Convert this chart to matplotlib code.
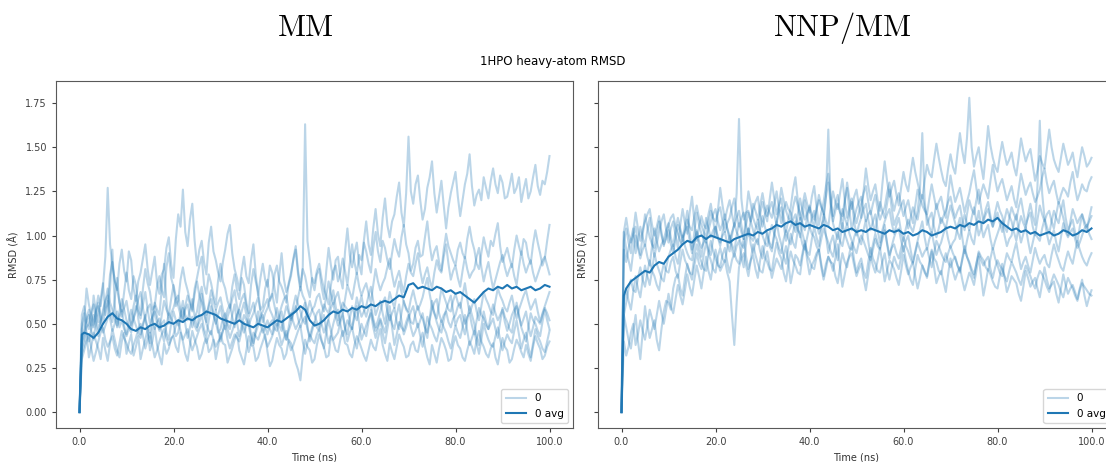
# RMSD traces for 1HPO, MM vs NNP/MM
import numpy as np
from matplotlib import pyplot as plt

plt.rcParams['mathtext.fontset'] = 'cm'

# MM replicas, heavy-atom RMSD (Å), one value every 0.5 ns from 0 to 100 ns
mm_rep1 = [
    0.00, 0.47, 0.52, 0.70, 0.61, 0.55, 0.48, 0.58, 0.66, 0.60, 0.71, 0.88, 1.27, 0.95, 0.83, 0.75, 0.69, 0.84, 0.92, 0.80,
    0.74, 0.91, 0.86, 0.70, 0.63, 0.74, 0.79, 0.87, 0.95, 0.81, 0.72, 0.80, 0.88, 0.73, 0.67, 0.78, 0.81, 0.93, 0.99, 0.84,
    0.76, 0.98, 1.12, 1.05, 1.26, 1.02, 0.94, 1.09, 1.18, 0.97, 0.83, 0.92, 0.97, 0.85, 0.78, 0.96, 1.05, 0.91, 0.86, 0.79,
    0.74, 0.85, 0.92, 1.01, 1.06, 0.90, 0.81, 0.76, 0.69, 0.80, 0.88, 0.77, 0.73, 0.86, 0.95, 0.78, 0.66, 0.76, 0.84, 0.75,
    0.71, 0.83, 0.79, 0.70, 0.62, 0.77, 0.90, 0.75, 0.68, 0.72, 0.77, 0.87, 0.94, 0.80, 0.71, 0.82, 1.63, 0.97, 0.86, 0.74,
    0.69, 0.78, 0.81, 0.71, 0.64, 0.80, 0.93, 0.83, 0.75, 0.86, 0.88, 0.76, 0.70, 0.91, 1.04, 0.89, 0.82, 0.90, 0.96, 0.84,
    0.78, 0.97, 1.08, 0.95, 0.89, 1.04, 1.15, 1.01, 0.94, 1.10, 1.21, 1.06, 0.99, 1.08, 1.12, 1.22, 1.30, 1.13, 1.05, 1.24,
    1.56, 1.25, 1.18, 1.29, 1.34, 1.20, 1.09, 1.15, 1.27, 1.33, 1.42, 1.24, 1.13, 1.22, 1.31, 1.17, 1.04, 1.16, 1.24, 1.30,
    1.36, 1.22, 1.11, 1.20, 1.29, 1.35, 1.46, 1.28, 1.17, 1.23, 1.26, 1.20, 1.33, 1.27, 1.21, 1.31, 1.38, 1.29, 1.24, 1.34,
    1.30, 1.21, 1.22, 1.28, 1.35, 1.24, 1.27, 1.33, 1.19, 1.26, 1.32, 1.21, 1.25, 1.33, 1.40, 1.28, 1.23, 1.31, 1.29, 1.36,
    1.45]
mm_rep2 = [
    0.00, 0.39, 0.44, 0.53, 0.58, 0.49, 0.66, 0.57, 0.51, 0.64, 0.73, 0.55, 0.62, 0.78, 0.85, 0.74, 0.70, 0.62, 0.57, 0.68,
    0.79, 0.69, 0.64, 0.77, 0.72, 0.61, 0.55, 0.70, 0.81, 0.73, 0.68, 0.58, 0.60, 0.71, 0.77, 0.69, 0.65, 0.82, 0.90, 0.76,
    0.71, 0.60, 0.63, 0.75, 0.82, 0.74, 0.69, 0.63, 0.58, 0.70, 0.76, 0.83, 0.88, 0.72, 0.67, 0.78, 0.73, 0.66, 0.61, 0.75,
    0.84, 0.74, 0.70, 0.63, 0.59, 0.71, 0.78, 0.69, 0.64, 0.76, 0.72, 0.62, 0.56, 0.72, 0.81, 0.74, 0.68, 0.58, 0.60, 0.70,
    0.75, 0.63, 0.66, 0.78, 0.83, 0.74, 0.71, 0.67, 0.62, 0.73, 0.79, 0.86, 0.92, 0.78, 0.69, 0.81, 0.77, 0.70, 0.65, 0.76,
    0.73, 0.80, 0.84, 0.76, 0.70, 0.66, 0.61, 0.72, 0.80, 0.83, 0.74, 0.79, 0.87, 0.80, 0.72, 0.84, 0.95, 0.85, 0.78, 0.89,
    0.86, 0.96, 0.91, 0.84, 0.79, 0.93, 1.02, 0.91, 0.85, 0.97, 0.93, 0.86, 0.81, 0.90, 0.98, 0.92, 0.88, 0.99, 1.06, 0.95,
    0.90, 0.80, 0.84, 0.93, 0.97, 0.88, 0.89, 0.99, 1.08, 0.95, 0.86, 0.91, 0.94, 0.85, 0.80, 0.92, 1.01, 0.94, 0.90, 0.86,
    0.83, 0.92, 0.96, 0.90, 0.87, 0.98, 1.05, 0.97, 0.92, 0.84, 0.81, 0.90, 0.99, 0.93, 0.88, 0.97, 0.94, 1.01, 1.07, 0.94,
    0.85, 0.89, 0.93, 0.87, 0.82, 0.92, 1.00, 0.94, 0.89, 0.98, 0.96, 0.88, 0.84, 0.95, 1.03, 0.96, 0.90, 0.83, 0.87, 0.97,
    1.06]
mm_rep3 = [
    0.00, 0.33, 0.38, 0.44, 0.31, 0.37, 0.45, 0.40, 0.36, 0.30, 0.42, 0.35, 0.29, 0.39, 0.47, 0.41, 0.35, 0.31, 0.40, 0.45,
    0.33, 0.39, 0.44, 0.32, 0.37, 0.43, 0.30, 0.36, 0.41, 0.47, 0.35, 0.40, 0.48, 0.38, 0.32, 0.27, 0.39, 0.33, 0.36, 0.42,
    0.43, 0.37, 0.34, 0.45, 0.40, 0.33, 0.29, 0.38, 0.46, 0.41, 0.37, 0.30, 0.33, 0.39, 0.42, 0.34, 0.36, 0.41, 0.30, 0.37,
    0.45, 0.39, 0.38, 0.28, 0.32, 0.36, 0.41, 0.45, 0.35, 0.31, 0.27, 0.35, 0.43, 0.38, 0.37, 0.29, 0.31, 0.36, 0.40, 0.44,
    0.34, 0.26, 0.29, 0.36, 0.42, 0.38, 0.36, 0.30, 0.33, 0.41, 0.39, 0.34, 0.28, 0.24, 0.18, 0.32, 0.41, 0.37, 0.35, 0.28,
    0.30, 0.38, 0.44, 0.40, 0.37, 0.31, 0.32, 0.43, 0.40, 0.35, 0.34, 0.41, 0.46, 0.39, 0.38, 0.33, 0.31, 0.38, 0.43, 0.40,
    0.36, 0.32, 0.29, 0.35, 0.41, 0.37, 0.35, 0.42, 0.47, 0.38, 0.33, 0.29, 0.39, 0.34, 0.30, 0.37, 0.44, 0.40, 0.37, 0.31,
    0.32, 0.38, 0.40, 0.35, 0.34, 0.41, 0.45, 0.37, 0.31, 0.27, 0.38, 0.33, 0.28, 0.36, 0.42, 0.39, 0.35, 0.29, 0.30, 0.38,
    0.43, 0.38, 0.36, 0.31, 0.29, 0.35, 0.40, 0.37, 0.33, 0.41, 0.46, 0.40, 0.37, 0.33, 0.31, 0.36, 0.39, 0.31, 0.27, 0.35,
    0.42, 0.37, 0.35, 0.28, 0.30, 0.36, 0.41, 0.38, 0.34, 0.31, 0.38, 0.33, 0.29, 0.37, 0.43, 0.39, 0.36, 0.30, 0.32, 0.37,
    0.40]
mm_rep4 = [
    0.00, 0.41, 0.47, 0.52, 0.55, 0.46, 0.41, 0.51, 0.60, 0.55, 0.50, 0.58, 0.63, 0.53, 0.46, 0.50, 0.57, 0.48, 0.52, 0.47,
    0.44, 0.52, 0.58, 0.53, 0.49, 0.45, 0.42, 0.49, 0.54, 0.59, 0.61, 0.52, 0.47, 0.51, 0.53, 0.45, 0.40, 0.49, 0.56, 0.53,
    0.50, 0.43, 0.45, 0.53, 0.59, 0.55, 0.52, 0.58, 0.64, 0.54, 0.48, 0.51, 0.55, 0.47, 0.43, 0.52, 0.60, 0.55, 0.51, 0.45,
    0.47, 0.53, 0.56, 0.47, 0.42, 0.46, 0.50, 0.55, 0.58, 0.50, 0.45, 0.49, 0.53, 0.44, 0.39, 0.45, 0.49, 0.53, 0.55, 0.48,
    0.44, 0.50, 0.52, 0.47, 0.46, 0.53, 0.57, 0.48, 0.41, 0.46, 0.50, 0.56, 0.60, 0.53, 0.48, 0.52, 0.54, 0.47, 0.43, 0.48,
    0.51, 0.56, 0.58, 0.50, 0.45, 0.49, 0.53, 0.59, 0.62, 0.54, 0.49, 0.53, 0.56, 0.48, 0.44, 0.53, 0.60, 0.55, 0.52, 0.60,
    0.66, 0.58, 0.54, 0.59, 0.61, 0.53, 0.48, 0.52, 0.57, 0.62, 0.65, 0.57, 0.52, 0.56, 0.59, 0.51, 0.47, 0.56, 0.63, 0.58,
    0.56, 0.51, 0.50, 0.56, 0.60, 0.55, 0.53, 0.48, 0.45, 0.52, 0.58, 0.62, 0.64, 0.56, 0.51, 0.55, 0.57, 0.51, 0.48, 0.53,
    0.55, 0.60, 0.62, 0.55, 0.50, 0.54, 0.56, 0.49, 0.44, 0.52, 0.59, 0.55, 0.53, 0.49, 0.47, 0.55, 0.61, 0.56, 0.52, 0.55,
    0.58, 0.51, 0.46, 0.50, 0.55, 0.58, 0.60, 0.54, 0.49, 0.53, 0.57, 0.49, 0.43, 0.48, 0.54, 0.52, 0.50, 0.55, 0.59, 0.56,
    0.52]
mm_rep5 = [
    0.00, 0.50, 0.56, 0.45, 0.40, 0.47, 0.50, 0.57, 0.62, 0.51, 0.45, 0.49, 0.53, 0.70, 0.92, 0.61, 0.48, 0.54, 0.58, 0.49,
    0.43, 0.47, 0.51, 0.60, 0.66, 0.53, 0.44, 0.50, 0.55, 0.45, 0.39, 0.48, 0.60, 0.54, 0.47, 0.50, 0.52, 0.45, 0.41, 0.50,
    0.57, 0.52, 0.49, 0.56, 0.63, 0.50, 0.42, 0.48, 0.54, 0.49, 0.46, 0.57, 0.67, 0.58, 0.50, 0.46, 0.44, 0.51, 0.58, 0.47,
    0.40, 0.46, 0.53, 0.50, 0.47, 0.55, 0.61, 0.51, 0.43, 0.49, 0.55, 0.52, 0.49, 0.42, 0.38, 0.47, 0.57, 0.50, 0.45, 0.48,
    0.52, 0.47, 0.44, 0.52, 0.59, 0.54, 0.50, 0.45, 0.41, 0.48, 0.56, 0.51, 0.47, 0.50, 0.53, 0.58, 0.62, 0.49, 0.40, 0.46,
    0.51, 0.48, 0.46, 0.51, 0.55, 0.46, 0.39, 0.44, 0.50, 0.55, 0.58, 0.50, 0.43, 0.47, 0.52, 0.49, 0.47, 0.54, 0.60, 0.50,
    0.41, 0.45, 0.49, 0.53, 0.56, 0.48, 0.42, 0.47, 0.53, 0.49, 0.45, 0.53, 0.60, 0.48, 0.38, 0.44, 0.51, 0.48, 0.46, 0.51,
    0.55, 0.48, 0.43, 0.46, 0.50, 0.43, 0.37, 0.45, 0.54, 0.50, 0.47, 0.43, 0.40, 0.46, 0.52, 0.48, 0.45, 0.40, 0.36, 0.43,
    0.49, 0.45, 0.42, 0.48, 0.55, 0.46, 0.38, 0.42, 0.46, 0.39, 0.33, 0.41, 0.50, 0.45, 0.41, 0.38, 0.37, 0.43, 0.48, 0.41,
    0.35, 0.40, 0.44, 0.41, 0.39, 0.46, 0.52, 0.44, 0.36, 0.41, 0.45, 0.37, 0.31, 0.39, 0.47, 0.43, 0.40, 0.36, 0.34, 0.40,
    0.46]
mm_rep6 = [
    0.00, 0.36, 0.42, 0.48, 0.50, 0.57, 0.61, 0.53, 0.47, 0.52, 0.55, 0.63, 0.70, 0.62, 0.58, 0.53, 0.49, 0.57, 0.64, 0.58,
    0.52, 0.48, 0.45, 0.53, 0.60, 0.57, 0.53, 0.61, 0.68, 0.58, 0.50, 0.54, 0.57, 0.50, 0.46, 0.55, 0.63, 0.58, 0.55, 0.64,
    0.72, 0.65, 0.60, 0.55, 0.52, 0.60, 0.66, 0.61, 0.57, 0.67, 0.74, 0.66, 0.62, 0.55, 0.51, 0.61, 0.69, 0.63, 0.58, 0.62,
    0.65, 0.58, 0.53, 0.58, 0.61, 0.54, 0.48, 0.54, 0.59, 0.64, 0.67, 0.60, 0.54, 0.58, 0.62, 0.55, 0.50, 0.54, 0.57, 0.61,
    0.64, 0.58, 0.55, 0.51, 0.49, 0.55, 0.60, 0.64, 0.66, 0.58, 0.52, 0.56, 0.58, 0.65, 0.71, 0.66, 0.63, 0.57, 0.54, 0.58,
    0.60, 0.65, 0.67, 0.61, 0.57, 0.66, 0.74, 0.67, 0.61, 0.65, 0.68, 0.61, 0.56, 0.64, 0.72, 0.68, 0.64, 0.72, 0.79, 0.71,
    0.66, 0.70, 0.73, 0.67, 0.62, 0.72, 0.81, 0.74, 0.69, 0.73, 0.76, 0.82, 0.87, 0.78, 0.71, 0.76, 0.80, 0.73, 0.68, 0.77,
    0.84, 0.79, 0.77, 0.84, 0.90, 0.80, 0.73, 0.78, 0.82, 0.75, 0.70, 0.79, 0.86, 0.81, 0.79, 0.88, 0.95, 0.84, 0.75, 0.80,
    0.83, 0.76, 0.71, 0.80, 0.88, 0.81, 0.76, 0.79, 0.81, 0.88, 0.93, 0.82, 0.74, 0.80, 0.85, 0.77, 0.70, 0.75, 0.80, 0.85,
    0.89, 0.82, 0.77, 0.81, 0.84, 0.77, 0.72, 0.82, 0.91, 0.84, 0.79, 0.83, 0.86, 0.79, 0.74, 0.78, 0.82, 0.86, 0.88, 0.83,
    0.78]
mm_rep7 = [
    0.00, 0.30, 0.35, 0.40, 0.44, 0.36, 0.29, 0.34, 0.40, 0.45, 0.48, 0.41, 0.37, 0.40, 0.43, 0.36, 0.32, 0.39, 0.46, 0.42,
    0.39, 0.35, 0.33, 0.38, 0.42, 0.47, 0.50, 0.43, 0.36, 0.41, 0.45, 0.38, 0.31, 0.35, 0.40, 0.44, 0.47, 0.42, 0.38, 0.41,
    0.44, 0.49, 0.52, 0.46, 0.41, 0.44, 0.47, 0.40, 0.35, 0.39, 0.43, 0.47, 0.50, 0.44, 0.39, 0.43, 0.46, 0.41, 0.37, 0.40,
    0.42, 0.46, 0.49, 0.41, 0.36, 0.40, 0.44, 0.42, 0.40, 0.46, 0.51, 0.42, 0.34, 0.39, 0.45, 0.43, 0.41, 0.45, 0.48, 0.42,
    0.37, 0.40, 0.43, 0.47, 0.50, 0.44, 0.38, 0.42, 0.46, 0.40, 0.35, 0.38, 0.42, 0.46, 0.49, 0.40, 0.33, 0.39, 0.44, 0.41,
    0.39, 0.44, 0.47, 0.41, 0.36, 0.45, 0.52, 0.46, 0.41, 0.43, 0.45, 0.51, 0.55, 0.47, 0.40, 0.45, 0.48, 0.41, 0.36, 0.44,
    0.50, 0.46, 0.43, 0.51, 0.58, 0.51, 0.46, 0.49, 0.52, 0.45, 0.39, 0.47, 0.55, 0.50, 0.47, 0.55, 0.61, 0.52, 0.44, 0.48,
    0.53, 0.57, 0.60, 0.53, 0.48, 0.52, 0.56, 0.48, 0.42, 0.53, 0.63, 0.56, 0.51, 0.47, 0.45, 0.52, 0.58, 0.62, 0.66, 0.57,
    0.49, 0.53, 0.55, 0.49, 0.44, 0.52, 0.60, 0.55, 0.50, 0.43, 0.38, 0.48, 0.57, 0.51, 0.47, 0.50, 0.53, 0.47, 0.42, 0.51,
    0.59, 0.54, 0.51, 0.47, 0.45, 0.54, 0.62, 0.55, 0.48, 0.44, 0.40, 0.48, 0.56, 0.52, 0.50, 0.46, 0.43, 0.51, 0.58, 0.52,
    0.47]
mm_rep8 = [
    0.00, 0.55, 0.60, 0.52, 0.47, 0.50, 0.55, 0.49, 0.43, 0.51, 0.58, 0.63, 0.66, 0.57, 0.51, 0.64, 0.76, 0.62, 0.54, 0.59,
    0.63, 0.55, 0.49, 0.53, 0.57, 0.64, 0.68, 0.59, 0.52, 0.48, 0.45, 0.55, 0.62, 0.58, 0.55, 0.70, 0.84, 0.63, 0.50, 0.56,
    0.59, 0.64, 0.66, 0.58, 0.53, 0.58, 0.61, 0.54, 0.48, 0.53, 0.57, 0.65, 0.71, 0.61, 0.55, 0.60, 0.64, 0.56, 0.50, 0.55,
    0.60, 0.52, 0.47, 0.54, 0.58, 0.64, 0.69, 0.60, 0.53, 0.57, 0.62, 0.55, 0.49, 0.53, 0.56, 0.61, 0.65, 0.57, 0.51, 0.56,
    0.59, 0.64, 0.67, 0.60, 0.54, 0.49, 0.46, 0.54, 0.60, 0.56, 0.53, 0.60, 0.66, 0.61, 0.57, 0.52, 0.50, 0.57, 0.63, 0.58,
    0.55, 0.51, 0.48, 0.55, 0.61, 0.58, 0.56, 0.63, 0.69, 0.60, 0.52, 0.57, 0.62, 0.60, 0.58, 0.52, 0.47, 0.56, 0.65, 0.59,
    0.54, 0.57, 0.60, 0.66, 0.71, 0.63, 0.55, 0.59, 0.63, 0.56, 0.50, 0.59, 0.68, 0.63, 0.59, 0.67, 0.74, 0.68, 0.62, 0.59,
    0.57, 0.64, 0.69, 0.63, 0.58, 0.61, 0.65, 0.71, 0.76, 0.67, 0.60, 0.56, 0.53, 0.61, 0.70, 0.66, 0.62, 0.58, 0.57, 0.63,
    0.67, 0.62, 0.59, 0.66, 0.73, 0.64, 0.56, 0.60, 0.64, 0.57, 0.52, 0.60, 0.68, 0.64, 0.61, 0.57, 0.55, 0.63, 0.70, 0.66,
    0.63, 0.59, 0.57, 0.62, 0.66, 0.59, 0.53, 0.58, 0.62, 0.66, 0.69, 0.63, 0.58, 0.61, 0.64, 0.57, 0.51, 0.56, 0.60, 0.64,
    0.68]

# replica average: values at 0 and 0.5 ns, then one per ns
avg_time_ns = [0.0, 0.5] + list(range(1, 101))
mm_avg = [0.00, 0.44,
    0.45, 0.44, 0.42, 0.45, 0.50, 0.54, 0.56, 0.53, 0.52, 0.50,
    0.47, 0.46, 0.48, 0.47, 0.49, 0.50, 0.48, 0.49, 0.51, 0.50,
    0.52, 0.51, 0.53, 0.52, 0.54, 0.55, 0.57, 0.56, 0.55, 0.53,
    0.52, 0.51, 0.50, 0.52, 0.50, 0.49, 0.48, 0.50, 0.49, 0.48,
    0.50, 0.52, 0.51, 0.53, 0.55, 0.57, 0.60, 0.58, 0.52, 0.49,
    0.50, 0.52, 0.55, 0.57, 0.56, 0.58, 0.57, 0.59, 0.58, 0.60,
    0.59, 0.61, 0.60, 0.62, 0.63, 0.62, 0.64, 0.66, 0.65, 0.72,
    0.73, 0.70, 0.71, 0.70, 0.69, 0.71, 0.70, 0.68, 0.69, 0.67,
    0.68, 0.66, 0.64, 0.62, 0.65, 0.68, 0.70, 0.69, 0.71, 0.70,
    0.72, 0.70, 0.71, 0.69, 0.70, 0.71, 0.69, 0.70, 0.72, 0.71]

# NNP/MM replicas, heavy-atom RMSD (Å), one value every 0.5 ns
nnp_rep1 = [
    0.00, 0.92, 0.85, 0.93, 0.98, 1.04, 0.90, 0.97, 1.05, 0.99, 0.94, 1.03, 1.10, 0.97, 0.88, 0.95, 1.02, 1.08, 1.12, 1.03,
    0.96, 1.04, 1.08, 1.00, 0.93, 1.06, 1.15, 1.07, 1.01, 1.13, 1.22, 1.08, 0.97, 1.05, 1.11, 1.06, 1.04, 1.12, 1.18, 1.09,
    0.99, 1.14, 1.27, 1.17, 1.09, 1.15, 1.20, 1.12, 1.05, 1.10, 1.14, 1.06, 0.98, 1.12, 1.25, 1.18, 1.10, 1.06, 1.03, 1.12,
    1.19, 1.13, 1.08, 1.20, 1.30, 1.21, 1.12, 1.17, 1.21, 1.11, 1.02, 1.09, 1.16, 1.26, 1.33, 1.20, 1.09, 1.17, 1.24, 1.18,
    1.13, 1.22, 1.28, 1.16, 1.06, 1.13, 1.19, 1.28, 1.35, 1.22, 1.11, 1.18, 1.23, 1.13, 1.04, 1.18, 1.30, 1.21, 1.15, 1.22,
    1.26, 1.17, 1.10, 1.25, 1.38, 1.28, 1.20, 1.25, 1.29, 1.20, 1.14, 1.29, 1.42, 1.31, 1.22, 1.27, 1.31, 1.23, 1.17, 1.27,
    1.36, 1.29, 1.25, 1.35, 1.44, 1.36, 1.30, 1.24, 1.21, 1.31, 1.40, 1.35, 1.33, 1.43, 1.52, 1.44, 1.37, 1.31, 1.28, 1.38,
    1.46, 1.39, 1.35, 1.47, 1.58, 1.48, 1.41, 1.55, 1.78, 1.50, 1.39, 1.45, 1.50, 1.40, 1.32, 1.46, 1.62, 1.51, 1.44, 1.39,
    1.36, 1.45, 1.53, 1.46, 1.40, 1.43, 1.47, 1.39, 1.34, 1.44, 1.55, 1.48, 1.42, 1.46, 1.49, 1.40, 1.31, 1.37, 1.45, 1.41,
    1.38, 1.49, 1.60, 1.50, 1.43, 1.39, 1.36, 1.44, 1.52, 1.46, 1.40, 1.43, 1.47, 1.39, 1.33, 1.42, 1.50, 1.45, 1.39, 1.41,
    1.44]
nnp_rep2 = [
    0.00, 0.40, 0.32, 0.37, 0.45, 0.50, 0.38, 0.44, 0.52, 0.46, 0.41, 0.49, 0.58, 0.53, 0.47, 0.55, 0.63, 0.56, 0.50, 0.58,
    0.67, 0.60, 0.56, 0.64, 0.72, 0.66, 0.61, 0.69, 0.78, 0.71, 0.66, 0.75, 0.83, 0.77, 0.70, 0.79, 0.88, 0.80, 0.75, 0.84,
    0.92, 0.85, 0.80, 0.83, 0.86, 0.79, 0.74, 0.55, 0.38, 0.62, 0.82, 0.87, 0.90, 0.83, 0.77, 0.86, 0.95, 0.89, 0.84, 0.80,
    0.79, 0.86, 0.91, 0.83, 0.76, 0.82, 0.87, 0.84, 0.81, 0.88, 0.94, 0.85, 0.73, 0.80, 0.89, 0.87, 0.83, 0.90, 0.97, 0.86,
    0.78, 0.83, 0.86, 0.90, 0.92, 0.82, 0.75, 0.81, 0.88, 0.85, 0.80, 0.87, 0.95, 0.82, 0.71, 0.78, 0.85, 0.88, 0.90, 0.83,
    0.77, 0.81, 0.84, 0.76, 0.69, 0.78, 0.88, 0.83, 0.79, 0.86, 0.93, 0.84, 0.74, 0.80, 0.86, 0.84, 0.81, 0.76, 0.72, 0.80,
    0.89, 0.83, 0.78, 0.82, 0.85, 0.77, 0.70, 0.76, 0.83, 0.80, 0.76, 0.84, 0.91, 0.82, 0.73, 0.77, 0.80, 0.74, 0.68, 0.78,
    0.87, 0.80, 0.75, 0.79, 0.82, 0.75, 0.69, 0.74, 0.79, 0.76, 0.72, 0.80, 0.88, 0.77, 0.66, 0.73, 0.81, 0.78, 0.74, 0.71,
    0.70, 0.77, 0.84, 0.76, 0.68, 0.72, 0.77, 0.75, 0.73, 0.67, 0.63, 0.71, 0.80, 0.76, 0.71, 0.74, 0.76, 0.70, 0.65, 0.73,
    0.82, 0.75, 0.70, 0.72, 0.74, 0.67, 0.62, 0.70, 0.78, 0.72, 0.67, 0.70, 0.72, 0.68, 0.64, 0.70, 0.75, 0.66, 0.60, 0.65,
    0.69]
nnp_rep3 = [
    0.00, 0.55, 0.48, 0.41, 0.36, 0.46, 0.55, 0.40, 0.30, 0.45, 0.60, 0.50, 0.42, 0.47, 0.52, 0.41, 0.35, 0.47, 0.57, 0.63,
    0.62, 0.58, 0.70, 0.76, 0.78, 0.70, 0.66, 0.76, 0.84, 0.79, 0.75, 0.83, 0.90, 0.84, 0.81, 0.89, 0.96, 0.90, 0.86, 0.81,
    0.79, 0.88, 0.93, 0.87, 0.85, 0.93, 1.00, 0.92, 0.88, 0.94, 0.97, 0.88, 0.82, 0.95, 1.04, 0.95, 0.90, 0.96, 0.98, 0.91,
    0.87, 0.95, 1.02, 0.94, 0.91, 1.00, 1.08, 1.00, 0.95, 0.88, 0.84, 0.93, 1.01, 0.96, 0.93, 1.03, 1.10, 1.01, 0.96, 0.91,
    0.89, 0.98, 1.05, 0.99, 0.94, 1.04, 1.12, 1.00, 0.90, 0.96, 1.00, 0.92, 0.86, 0.97, 1.07, 1.01, 0.97, 0.93, 0.92, 0.99,
    1.03, 0.98, 0.95, 1.03, 1.09, 0.97, 0.88, 0.95, 1.01, 0.96, 0.93, 1.00, 1.06, 0.95, 0.87, 0.94, 0.99, 1.03, 1.04, 0.97,
    0.91, 0.97, 1.00, 0.92, 0.85, 0.91, 0.97, 1.03, 1.08, 0.99, 0.92, 0.98, 1.02, 0.95, 0.89, 0.93, 0.96, 1.01, 1.05, 0.98,
    0.93, 0.96, 0.98, 1.05, 1.10, 0.99, 0.90, 0.97, 1.03, 0.98, 0.95, 1.05, 1.14, 1.06, 0.99, 1.03, 1.06, 0.98, 0.92, 0.97,
    1.01, 1.05, 1.08, 1.00, 0.94, 0.98, 1.00, 1.07, 1.12, 1.03, 0.96, 1.01, 1.05, 0.97, 0.90, 0.96, 1.02, 0.99, 0.97, 1.04,
    1.09, 1.01, 0.95, 0.99, 1.03, 0.96, 0.91, 0.99, 1.07, 1.02, 0.99, 1.02, 1.04, 0.98, 0.93, 0.96, 1.00, 1.04, 1.06, 1.01,
    0.98]
nnp_rep4 = [
    0.00, 1.02, 0.92, 0.86, 0.80, 0.91, 1.00, 0.93, 0.87, 0.92, 0.95, 0.88, 0.83, 0.94, 1.04, 0.97, 0.91, 0.95, 0.98, 1.03,
    1.07, 0.99, 0.94, 1.03, 1.10, 1.04, 0.99, 1.02, 1.05, 0.97, 0.90, 1.02, 1.13, 1.06, 1.01, 0.98, 0.96, 1.03, 1.08, 1.12,
    1.15, 1.08, 1.03, 1.07, 1.12, 1.04, 0.97, 1.02, 1.06, 1.24, 1.66, 1.21, 1.09, 1.13, 1.14, 1.08, 1.14, 1.19, 1.22, 1.12,
    1.05, 1.12, 1.17, 1.13, 1.10, 1.18, 1.25, 1.15, 1.07, 1.14, 1.19, 1.15, 1.13, 1.06, 1.02, 1.12, 1.21, 1.14, 1.09, 1.13,
    1.16, 1.09, 1.05, 1.15, 1.23, 1.17, 1.12, 1.22, 1.30, 1.18, 1.08, 1.14, 1.18, 1.13, 1.11, 1.20, 1.27, 1.14, 1.03, 1.10,
    1.15, 1.19, 1.22, 1.14, 1.08, 1.12, 1.14, 1.07, 1.02, 1.11, 1.19, 1.14, 1.10, 1.18, 1.26, 1.15, 1.06, 1.10, 1.13, 1.17,
    1.20, 1.11, 1.04, 1.10, 1.16, 1.12, 1.09, 1.17, 1.23, 1.16, 1.11, 1.05, 1.01, 1.10, 1.18, 1.12, 1.07, 1.11, 1.14, 1.19,
    1.22, 1.15, 1.10, 1.14, 1.17, 1.09, 1.03, 1.12, 1.20, 1.15, 1.12, 1.20, 1.26, 1.16, 1.08, 1.12, 1.15, 1.09, 1.05, 1.13,
    1.19, 1.14, 1.11, 1.05, 1.02, 1.10, 1.16, 1.12, 1.09, 1.16, 1.21, 1.13, 1.06, 1.10, 1.13, 1.05, 1.00, 1.09, 1.17, 1.12,
    1.08, 1.12, 1.14, 1.08, 1.04, 1.12, 1.19, 1.15, 1.10, 1.04, 1.00, 1.08, 1.15, 1.11, 1.07, 1.10, 1.12, 1.06, 1.03, 1.10,
    1.16]
nnp_rep5 = [
    0.00, 1.02, 1.10, 1.01, 0.96, 1.00, 1.05, 0.95, 0.89, 1.00, 1.12, 1.05, 0.99, 0.95, 0.93, 1.01, 1.08, 1.00, 0.95, 0.98,
    1.03, 0.95, 0.90, 0.98, 1.06, 1.02, 0.97, 1.06, 1.14, 1.02, 0.92, 0.96, 1.02, 0.94, 0.88, 0.99, 1.10, 1.04, 0.99, 1.03,
    1.05, 0.99, 0.94, 1.02, 1.09, 1.04, 1.00, 0.95, 0.91, 1.00, 1.07, 1.02, 0.98, 1.06, 1.13, 1.08, 1.03, 0.98, 0.95, 1.04,
    1.11, 1.05, 1.00, 0.96, 0.93, 1.01, 1.08, 1.13, 1.16, 1.06, 0.97, 1.02, 1.05, 1.09, 1.12, 1.05, 0.99, 1.10, 1.20, 1.11,
    1.04, 1.10, 1.14, 1.07, 1.01, 1.05, 1.09, 1.22, 1.60, 1.18, 1.07, 1.02, 0.98, 1.07, 1.15, 1.10, 1.06, 1.13, 1.19, 1.08,
    1.00, 1.06, 1.10, 1.15, 1.18, 1.09, 1.03, 1.08, 1.12, 1.03, 0.96, 1.03, 1.08, 1.12, 1.15, 1.07, 1.01, 1.06, 1.10, 1.02,
    0.97, 1.04, 1.09, 1.05, 1.02, 1.08, 1.14, 1.26, 1.58, 1.20, 1.06, 1.10, 1.13, 1.05, 0.99, 1.04, 1.10, 1.07, 1.04, 1.11,
    1.17, 1.12, 1.07, 1.02, 0.98, 1.06, 1.12, 1.07, 1.03, 1.10, 1.16, 1.08, 1.00, 1.04, 1.09, 1.15, 1.19, 1.11, 1.05, 1.09,
    1.13, 1.07, 1.02, 1.09, 1.15, 1.11, 1.08, 1.02, 0.97, 1.05, 1.11, 1.07, 1.04, 1.12, 1.18, 1.11, 1.06, 1.28, 1.65, 1.24,
    1.10, 1.05, 1.01, 1.08, 1.14, 1.10, 1.07, 1.14, 1.20, 1.10, 1.03, 1.06, 1.09, 1.02, 0.96, 1.05, 1.12, 1.08, 1.05, 1.08,
    1.11]
nnp_rep6 = [
    0.00, 0.55, 0.62, 0.70, 0.75, 0.69, 0.68, 0.76, 0.82, 0.75, 0.71, 0.79, 0.86, 0.80, 0.77, 0.72, 0.69, 0.78, 0.84, 0.80,
    0.79, 0.85, 0.88, 0.80, 0.76, 0.85, 0.92, 0.86, 0.83, 0.79, 0.78, 0.88, 0.95, 0.89, 0.85, 0.81, 0.80, 0.90, 0.97, 0.91,
    0.87, 0.83, 0.82, 0.89, 0.93, 0.85, 0.79, 0.86, 0.90, 0.86, 0.84, 0.92, 0.98, 0.88, 0.81, 0.86, 0.89, 0.81, 0.76, 0.86,
    0.94, 0.88, 0.85, 0.81, 0.80, 0.89, 0.96, 0.90, 0.87, 0.79, 0.74, 0.84, 0.91, 0.86, 0.83, 0.79, 0.78, 0.88, 0.95, 0.89,
    0.86, 0.82, 0.81, 0.88, 0.92, 0.84, 0.77, 0.84, 0.88, 0.85, 0.84, 0.77, 0.73, 0.82, 0.90, 0.85, 0.82, 0.90, 0.96, 0.86,
    0.79, 0.84, 0.87, 0.80, 0.76, 0.85, 0.93, 0.87, 0.84, 0.80, 0.79, 0.85, 0.90, 0.81, 0.75, 0.82, 0.88, 0.84, 0.81, 0.88,
    0.94, 0.86, 0.80, 0.75, 0.72, 0.81, 0.89, 0.85, 0.83, 0.79, 0.77, 0.85, 0.92, 0.87, 0.85, 0.80, 0.78, 0.85, 0.90, 0.85,
    0.82, 0.86, 0.88, 0.83, 0.79, 0.87, 0.94, 0.88, 0.84, 0.79, 0.76, 0.84, 0.91, 0.88, 0.86, 0.82, 0.80, 0.87, 0.93, 0.87,
    0.83, 0.79, 0.77, 0.84, 0.90, 0.87, 0.85, 0.91, 0.96, 0.88, 0.81, 0.85, 0.88, 0.83, 0.79, 0.86, 0.93, 0.88, 0.84, 0.87,
    0.89, 0.84, 0.82, 0.89, 0.95, 0.90, 0.86, 0.82, 0.80, 0.86, 0.91, 0.87, 0.84, 0.91, 0.97, 0.92, 0.88, 0.85, 0.83, 0.87,
    0.90]
nnp_rep7 = [
    0.00, 0.97, 1.04, 0.96, 0.90, 1.02, 1.13, 1.04, 0.97, 1.03, 1.08, 1.12, 1.15, 1.06, 1.00, 1.05, 1.11, 1.02, 0.94, 1.00,
    1.06, 1.10, 1.12, 1.05, 1.01, 0.97, 0.95, 1.03, 1.09, 1.05, 1.03, 1.11, 1.17, 1.10, 1.06, 1.02, 0.99, 1.07, 1.14, 1.10,
    1.08, 1.13, 1.16, 1.08, 1.02, 1.07, 1.10, 1.16, 1.21, 1.12, 1.05, 1.10, 1.13, 1.06, 1.00, 1.09, 1.18, 1.14, 1.09, 1.17,
    1.24, 1.16, 1.11, 1.15, 1.19, 1.12, 1.06, 1.17, 1.27, 1.20, 1.14, 1.10, 1.08, 1.16, 1.22, 1.17, 1.12, 1.07, 1.03, 1.10,
    1.17, 1.12, 1.09, 1.15, 1.20, 1.16, 1.13, 1.08, 1.05, 1.16, 1.25, 1.19, 1.15, 1.24, 1.32, 1.20, 1.10, 1.16, 1.21, 1.13,
    1.07, 1.13, 1.18, 1.24, 1.28, 1.19, 1.12, 1.18, 1.23, 1.15, 1.09, 1.13, 1.16, 1.24, 1.30, 1.21, 1.14, 1.20, 1.24, 1.17,
    1.11, 1.16, 1.20, 1.13, 1.07, 1.17, 1.26, 1.21, 1.17, 1.14, 1.12, 1.21, 1.29, 1.22, 1.15, 1.19, 1.22, 1.15, 1.10, 1.23,
    1.34, 1.26, 1.19, 1.23, 1.27, 1.20, 1.13, 1.19, 1.24, 1.31, 1.37, 1.27, 1.18, 1.24, 1.29, 1.25, 1.21, 1.31, 1.40, 1.32,
    1.25, 1.29, 1.32, 1.26, 1.20, 1.24, 1.28, 1.21, 1.16, 1.26, 1.35, 1.29, 1.23, 1.27, 1.30, 1.24, 1.19, 1.22, 1.26, 1.33,
    1.38, 1.30, 1.24, 1.28, 1.31, 1.24, 1.18, 1.23, 1.27, 1.25, 1.22, 1.30, 1.36, 1.27, 1.20, 1.24, 1.29, 1.26, 1.25, 1.30,
    1.33]
nnp_rep8 = [
    0.00, 0.62, 0.70, 0.63, 0.58, 0.68, 0.77, 0.70, 0.65, 0.75, 0.83, 0.77, 0.72, 0.80, 0.90, 0.84, 0.80, 0.76, 0.74, 0.82,
    0.88, 0.92, 0.95, 0.88, 0.84, 0.93, 1.00, 0.94, 0.90, 0.87, 0.86, 0.95, 1.03, 0.97, 0.93, 0.96, 0.98, 0.92, 0.89, 0.98,
    1.05, 0.99, 0.96, 1.00, 1.02, 0.95, 0.91, 1.00, 1.07, 1.02, 0.99, 0.95, 0.93, 1.00, 1.04, 0.99, 0.97, 1.04, 1.09, 1.03,
    1.00, 0.96, 0.94, 1.01, 1.06, 1.01, 0.98, 0.93, 0.90, 0.98, 1.03, 0.98, 0.95, 1.02, 1.08, 1.03, 1.01, 0.95, 0.92, 0.99,
    1.05, 1.01, 0.99, 0.94, 0.91, 0.98, 1.04, 1.00, 0.96, 0.91, 0.88, 0.95, 1.02, 0.97, 0.94, 1.01, 1.07, 1.01, 0.97, 0.93,
    0.90, 0.96, 1.00, 0.97, 0.93, 0.89, 0.86, 0.92, 0.98, 0.94, 0.92, 0.98, 1.03, 0.96, 0.89, 0.93, 0.95, 0.90, 0.87, 0.93,
    0.99, 0.94, 0.91, 0.87, 0.84, 0.90, 0.96, 0.92, 0.88, 0.91, 0.93, 0.87, 0.82, 0.90, 0.97, 0.94, 0.90, 0.87, 0.85, 0.90,
    0.94, 0.90, 0.87, 0.83, 0.80, 0.86, 0.92, 0.88, 0.85, 0.81, 0.78, 0.84, 0.90, 0.86, 0.83, 0.86, 0.88, 0.81, 0.76, 0.82,
    0.86, 0.83, 0.81, 0.77, 0.74, 0.80, 0.85, 0.82, 0.79, 0.75, 0.72, 0.78, 0.83, 0.80, 0.77, 0.73, 0.70, 0.76, 0.80, 0.78,
    0.75, 0.71, 0.68, 0.74, 0.78, 0.75, 0.72, 0.68, 0.65, 0.71, 0.76, 0.73, 0.70, 0.66, 0.63, 0.69, 0.73, 0.71, 0.69, 0.67,
    0.66]
nnp_avg = [0.00, 0.66,
    0.70, 0.74, 0.76, 0.78, 0.80, 0.79, 0.83, 0.85, 0.84, 0.88,
    0.90, 0.92, 0.95, 0.97, 0.96, 0.99, 1.00, 0.98, 1.00, 0.99,
    0.98, 0.97, 0.96, 0.98, 0.99, 1.00, 1.01, 1.00, 1.02, 1.01,
    1.03, 1.04, 1.06, 1.05, 1.07, 1.08, 1.06, 1.07, 1.05, 1.06,
    1.05, 1.04, 1.06, 1.05, 1.03, 1.04, 1.02, 1.03, 1.04, 1.02,
    1.03, 1.02, 1.04, 1.03, 1.02, 1.01, 1.03, 1.02, 1.03, 1.01,
    1.02, 1.00, 1.01, 1.03, 1.02, 1.00, 1.01, 1.02, 1.04, 1.05,
    1.04, 1.06, 1.05, 1.07, 1.06, 1.08, 1.07, 1.09, 1.08, 1.10,
    1.07, 1.05, 1.03, 1.04, 1.02, 1.03, 1.01, 1.02, 1.00, 1.01,
    1.02, 1.00, 1.01, 1.03, 1.02, 1.00, 1.01, 1.03, 1.02, 1.04]

mm_reps = [mm_rep1, mm_rep2, mm_rep3, mm_rep4, mm_rep5, mm_rep6, mm_rep7, mm_rep8]
nnp_reps = [nnp_rep1, nnp_rep2, nnp_rep3, nnp_rep4, nnp_rep5, nnp_rep6, nnp_rep7, nnp_rep8]

fig = plt.figure(figsize=(11.06, 4.62), dpi=100)
W, H = 1106, 462

# axes placed in pixels (the right panel runs off the edge as in the original)
ax1 = fig.add_axes([56 / W, 34 / H, 517 / W, 347 / H])
ax2 = fig.add_axes([598 / W, 34 / H, 517 / W, 347 / H], sharey=ax1)

for ax, reps, avg in [(ax1, mm_reps, mm_avg), (ax2, nnp_reps, nnp_avg)]:
    for i, rep in enumerate(reps):
        t = np.linspace(0, 100, len(rep))
        ax.plot(t, rep, color='tab:blue', alpha=0.3, lw=1.5,
                label='0' if i == 0 else None)
    ax.plot(avg_time_ns, avg, color='tab:blue', lw=1.5, label='0 avg')
    ax.set_xlim(-5, 105)
    ax.set_xticks([0, 20, 40, 60, 80, 100])
    ax.xaxis.set_major_formatter(plt.FormatStrFormatter('%.1f'))
    ax.tick_params(labelsize=7, colors='0.25', length=3)
    for s in ax.spines.values():
        s.set_color('0.35')
    ax.set_xlabel('Time (ns)', fontsize=7, color='0.2')
    ax.set_ylabel('RMSD (Å)', fontsize=7, color='0.2')
    ax.legend(loc='lower right', fontsize=7.5)

ax1.set_ylim(-0.09, 1.875)
ax1.set_yticks([0, 0.25, 0.5, 0.75, 1.0, 1.25, 1.5, 1.75])
ax1.yaxis.set_major_formatter(plt.FormatStrFormatter('%.2f'))
ax2.tick_params(labelleft=False)

fig.suptitle('1HPO heavy-atom RMSD', fontsize=8.5, y=1 - 61 / H, va='center')
fig.text(305 / W, 1 - 28 / H, r'$\mathrm{MM}$', fontsize=22, ha='center', va='center')
fig.text(842 / W, 1 - 28 / H, r'$\mathrm{NNP/MM}$', fontsize=22, ha='center', va='center')

fig.savefig('out.png', dpi=100)
